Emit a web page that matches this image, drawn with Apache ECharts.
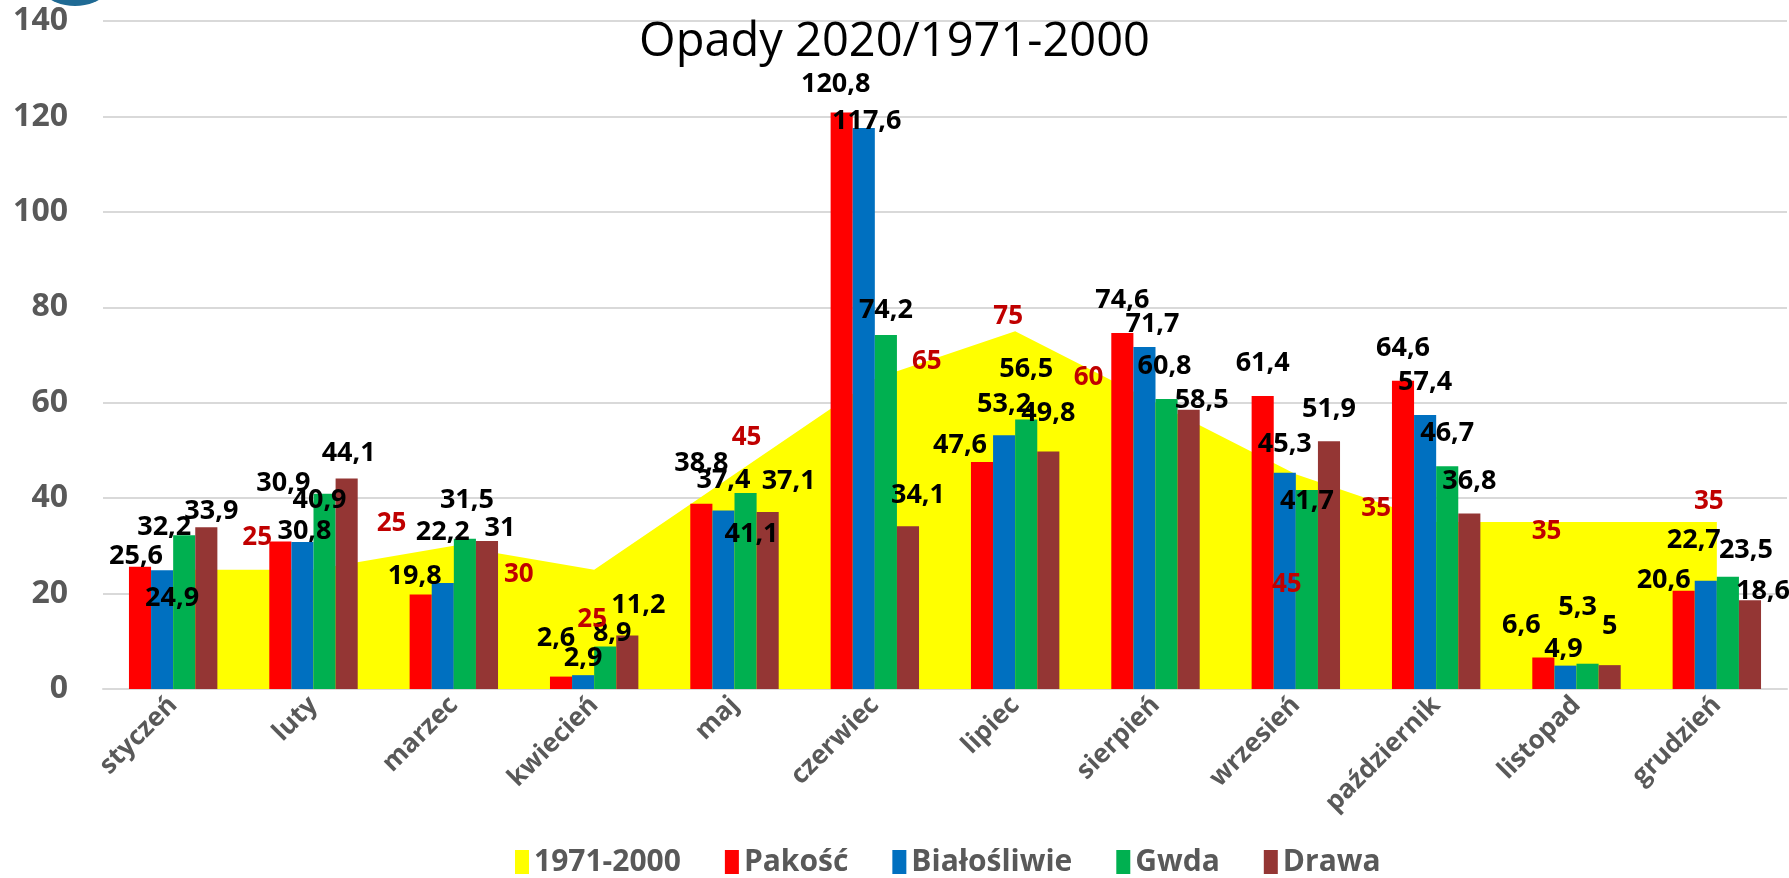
<!DOCTYPE html>
<html>
<head>
<meta charset="utf-8">
<title>Opady 2020/1971-2000</title>
<script src="https://cdn.jsdelivr.net/npm/echarts@6/dist/echarts.min.js"></script>
<style>
	html, body { margin: 0; padding: 0; background: #fff; }
	#echarts { width: 1789px; height: 878px; }
</style>
</head>
<body>
<div id="echarts"></div>
<script>
// miesiące
var miesiace = ['styczeń', 'luty', 'marzec', 'kwiecień', 'maj', 'czerwiec', 'lipiec', 'sierpień', 'wrzesień', 'październik', 'listopad', 'grudzień']
// średnia wieloletnia 1971-2000
var norma = [25, 25, 30, 25, 45, 65, 75, 60, 45, 35, 35, 35]
// opady 2020
var pakosc = [25.6, 30.9, 19.8, 2.6, 38.8, 120.8, 47.6, 74.6, 61.4, 64.6, 6.6, 20.6]
var bialosliwie = [24.9, 30.8, 22.2, 2.9, 37.4, 117.6, 53.2, 71.7, 45.3, 57.4, 4.9, 22.7]
var gwda = [32.2, 40.9, 31.5, 8.9, 41.1, 74.2, 56.5, 60.8, 41.7, 46.7, 5.3, 23.5]
var drawa = [33.9, 44.1, 31, 11.2, 37.1, 34.1, 49.8, 58.5, 51.9, 36.8, 5, 18.6]
// oś Y
var yMin = 0
var yMax = 140
var yKrok = 20

// ręczne przesunięcia etykiet (jak w oryginale)
var przesNorma = [[84, -14], [78, -28], [65, 47], [-2, 68], [12, -18], [52, 1], [-7, 4], [-67, -7], [-9, 129], [-60, 5], [-30, 28], [-8, -2]]
var przesPakosc = [[-4, 8], [3, -40], [-6, 0], [-5, -20], [0, -22], [-6, -10], [-22, 2], [0, -14], [0, -14], [0, -14], [-22, -14], [-20, 8]]
var przesBial = [[10, 47], [2, 8], [0, -32], [0, 2], [0, -12], [3, 12], [0, -12], [8, -4], [0, -10], [0, -14], [-2, 2], [-12, -22]]
var przesGwda = [[-20, 10], [-5, 25], [2, -20], [7, 5], [6, 60], [0, -6], [0, -32], [-2, -14], [0, 30], [0, -14], [-10, -38], [18, -8]]
var przesDrawa = [[5, 3], [2, -7], [13, 6], [11, -12], [21, -12], [10, -12], [0, -20], [13, 9], [0, -14], [0, -14], [0, -20], [13, 10]]

var font = '"Open Sans", "Noto Sans", sans-serif'

function przecinek(v) {
	return String(v).replace('.', ',')
}

function punkty(wartosci, przes) {
	return wartosci.map(function (v, i) {
		return { value: v, label: { offset: przes[i] } }
	})
}

function slupek(nazwa, kolor, wartosci, przes) {
	return {
		name: nazwa,
		type: 'bar',
		z: 2,
		barGap: '0%',
		barCategoryGap: '37%',
		itemStyle: { color: kolor },
		label: {
			show: true,
			position: 'top',
			distance: 5,
			color: '#000',
			fontFamily: font,
			fontWeight: 'bold',
			fontSize: 27,
			formatter: function (p) { return przecinek(p.value) }
		},
		data: punkty(wartosci, przes)
	}
}

var myChart = echarts.init(document.getElementById('echarts'))

var option = {
	backgroundColor: '#fff',
	animation: false,
	textStyle: { fontFamily: font },
	title: {
		text: 'Opady 2020/1971-2000',
		left: 'center',
		top: 14,
		textStyle: { fontFamily: font, fontWeight: 'normal', fontSize: 47, color: '#000' }
	},
	graphic: [{
		// kawałek logo w rogu
		type: 'circle',
		shape: { cx: 75, cy: -44, r: 50 },
		style: { fill: '#1F6A94' }
	}],
	legend: {
		top: 842,
		left: 510,
		icon: 'rect',
		itemWidth: 14,
		itemHeight: 24,
		itemGap: 44,
		textStyle: { fontFamily: font, fontWeight: 'bold', fontSize: 30, color: '#595959' },
		data: ['1971-2000', 'Pakość', 'Białośliwie', 'Gwda', 'Drawa']
	},
	grid: { left: 103, right: 2, top: 21, bottom: 189 },
	xAxis: {
		type: 'category',
		data: miesiace,
		axisLine: { lineStyle: { color: '#D9D9D9', width: 2 } },
		axisTick: { show: false },
		axisLabel: {
			rotate: 45,
			margin: 12,
			color: '#595959',
			fontFamily: font,
			fontWeight: 'bold',
			fontSize: 26,
			interval: 0
		}
	},
	yAxis: {
		type: 'value',
		min: yMin,
		max: yMax,
		interval: yKrok,
		axisLine: { show: false },
		axisTick: { show: false },
		splitLine: { lineStyle: { color: '#D9D9D9', width: 2 } },
		axisLabel: {
			margin: 35,
			color: '#595959',
			fontFamily: font,
			fontWeight: 'bold',
			fontSize: 32
		}
	},
	series: [
		{
			name: '1971-2000',
			type: 'line',
			z: 1,
			symbol: 'none',
			lineStyle: { width: 0 },
			itemStyle: { color: '#FFFF00' },
			areaStyle: { color: '#FFFF00', opacity: 1 },
			data: norma
		},
		slupek('Pakość', '#FF0000', pakosc, przesPakosc),
		slupek('Białośliwie', '#0070C0', bialosliwie, przesBial),
		slupek('Gwda', '#00B050', gwda, przesGwda),
		slupek('Drawa', '#943634', drawa, przesDrawa),
		{
			// etykiety średniej nad słupkami
			name: 'etykiety',
			type: 'line',
			z: 5,
			symbol: 'circle',
			symbolSize: 1,
			showSymbol: true,
			itemStyle: { color: 'rgba(0,0,0,0)' },
			lineStyle: { width: 0, opacity: 0 },
			label: {
				show: true,
				position: 'top',
				distance: 5,
				color: '#C00000',
				fontFamily: font,
				fontWeight: 'bold',
				fontSize: 26
			},
			data: punkty(norma, przesNorma)
		}
	]
}

myChart.setOption(option)
</script>
</body>
</html>
